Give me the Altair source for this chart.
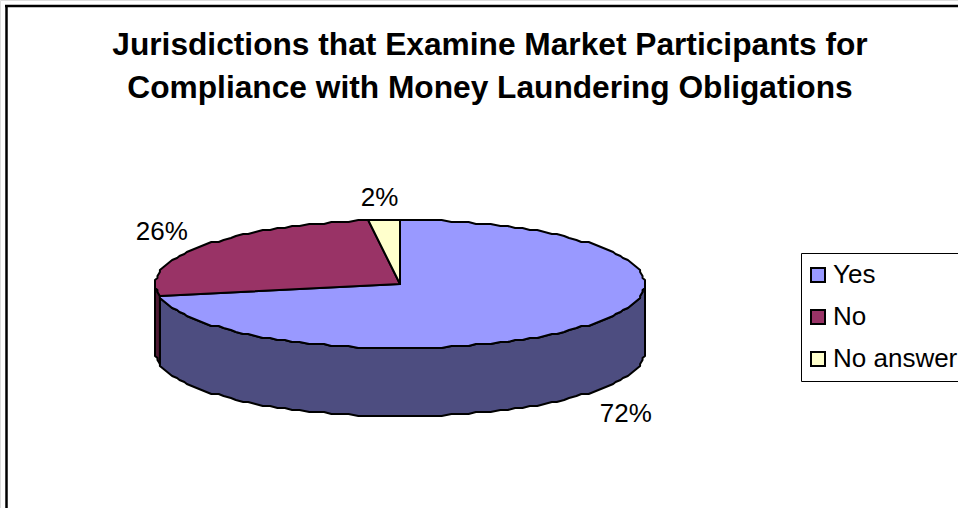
import math
import altair as alt
import pandas as pd

# Survey results
answers = ["Yes", "No", "No answer"]
shares = [72, 26, 2]
title_lines = [
    "Jurisdictions that Examine Market Participants for",
    "Compliance with Money Laundering Obligations",
]

top_colors = ["#9999FF", "#993366", "#FFFFCC"]
wall_colors = ["#4D4D80", "#4D1A33", "#80806A"]

FONT = "Liberation Sans"
WIDTH, HEIGHT = 958, 508
CENTER_X, CENTER_Y = 400, 284      # disc centre on the page
RADIUS_X, RADIUS_Y = 245, 64       # tilted disc radii
THICKNESS = 68 / RADIUS_Y          # wall height, in y radii
RIM_STEPS = 180                    # rim vertices per full turn
LABEL_NUDGE = {"Yes": (37, 89), "No": (-40, -14), "No answer": (-5, -22)}


def rim(turn):
    """Point of the disc rim, `turn` clockwise from twelve o'clock (0..1)."""
    a = 2 * math.pi * turn
    # light snapping gives the outline its stepped, metafile-like look
    return round(math.sin(a) * 100) / 100, round(math.cos(a) * 32) / 32


def arc_points(start, end):
    # every arc shares one vertex grid, so the disc edge and wall edge coincide
    inner = [k / RIM_STEPS for k in range(RIM_STEPS + 1) if start < k / RIM_STEPS < end]
    return [rim(t) for t in [start] + inner + [end]]


top_rows, wall_rows, label_rows = [], [], []
running = 0
for answer, share in zip(answers, shares):
    start, end = running / 100, (running + share) / 100
    running += share
    outline = [(0, 0)] + arc_points(start, end)
    for i, (x, y) in enumerate(outline):
        top_rows.append(dict(answer=answer, x=x, y=y, i=i))
    # only the part of a slice facing the viewer shows a wall
    lo, hi = max(start, 0.25), min(end, 0.75)
    if lo < hi:
        front = arc_points(lo, hi)
        lower = [(x, y - THICKNESS) for x, y in reversed(front)]
        for i, (x, y) in enumerate(front + lower):
            wall_rows.append(dict(answer=answer, x=x, y=y, i=i))
    mid = 2 * math.pi * (start + end) / 2
    label_rows.append(dict(answer=answer, x=math.sin(mid), y=math.cos(mid), text=f"{share}%"))

x_scale = alt.Scale(domain=[-CENTER_X / RADIUS_X, (WIDTH - CENTER_X) / RADIUS_X], range=[0, WIDTH], nice=False, zero=False)
y_scale = alt.Scale(domain=[-(HEIGHT - CENTER_Y) / RADIUS_Y, CENTER_Y / RADIUS_Y], range=[HEIGHT, 0], nice=False, zero=False)
x_enc = alt.X("x:Q", scale=x_scale, axis=None)
y_enc = alt.Y("y:Q", scale=y_scale, axis=None)

walls = (
    alt.Chart(pd.DataFrame(wall_rows))
    .mark_line(interpolate="linear-closed", stroke="black", strokeWidth=2, strokeJoin="round")
    .encode(
        x=x_enc, y=y_enc, order="i:Q",
        fill=alt.Fill("answer:N", scale=alt.Scale(domain=answers, range=wall_colors), legend=None),
    )
)

tops = (
    alt.Chart(pd.DataFrame(top_rows))
    .mark_line(interpolate="linear-closed", stroke="black", strokeWidth=2, strokeJoin="round")
    .encode(
        x=x_enc, y=y_enc, order="i:Q",
        fill=alt.Fill(
            "answer:N",
            sort=answers,
            scale=alt.Scale(domain=answers, range=top_colors),
            legend=alt.Legend(
                title=None, orient="none", legendX=801, legendY=253,
                symbolType="square", symbolSize=196, symbolStrokeColor="black", symbolStrokeWidth=2,
                labelFont=FONT, labelFontSize=26, labelColor="black", labelLimit=300,
                strokeColor="black", fillColor="white", padding=9, rowPadding=16,
                symbolOffset=-5, labelOffset=2,
            ),
        ),
    )
)

labels = [
    alt.Chart(pd.DataFrame([row]))
    .mark_text(font=FONT, fontSize=26, color="black", dx=LABEL_NUDGE[row["answer"]][0], dy=LABEL_NUDGE[row["answer"]][1])
    .encode(x=x_enc, y=y_enc, text="text:N")
    for row in label_rows
]

frame_top = alt.Chart(pd.DataFrame({"k": [0]})).mark_rule(color="black", strokeWidth=2.5).encode(
    x=alt.value(5), x2=alt.value(WIDTH), y=alt.value(6))
frame_left = alt.Chart(pd.DataFrame({"k": [0]})).mark_rule(color="black", strokeWidth=2.5).encode(
    x=alt.value(6.5), y=alt.value(5), y2=alt.value(HEIGHT))

chart = (
    alt.layer(frame_top, frame_left, walls, tops, *labels)
    .resolve_scale(fill="independent")
    .properties(
        width=WIDTH, height=HEIGHT, padding=0, autosize=alt.AutoSizeParams(type="none"),
        title=alt.TitleParams(
            text=title_lines, font=FONT, fontSize=31.7, fontWeight="bold", color="black",
            anchor="middle", frame="group", baseline="top", offset=-28, dx=11, dy=77, lineHeight=43,
        ),
    )
    .configure_view(stroke=None)
    .configure(background="white")
)

chart.save("out.html", embed_options={"renderer": "svg", "actions": False})
